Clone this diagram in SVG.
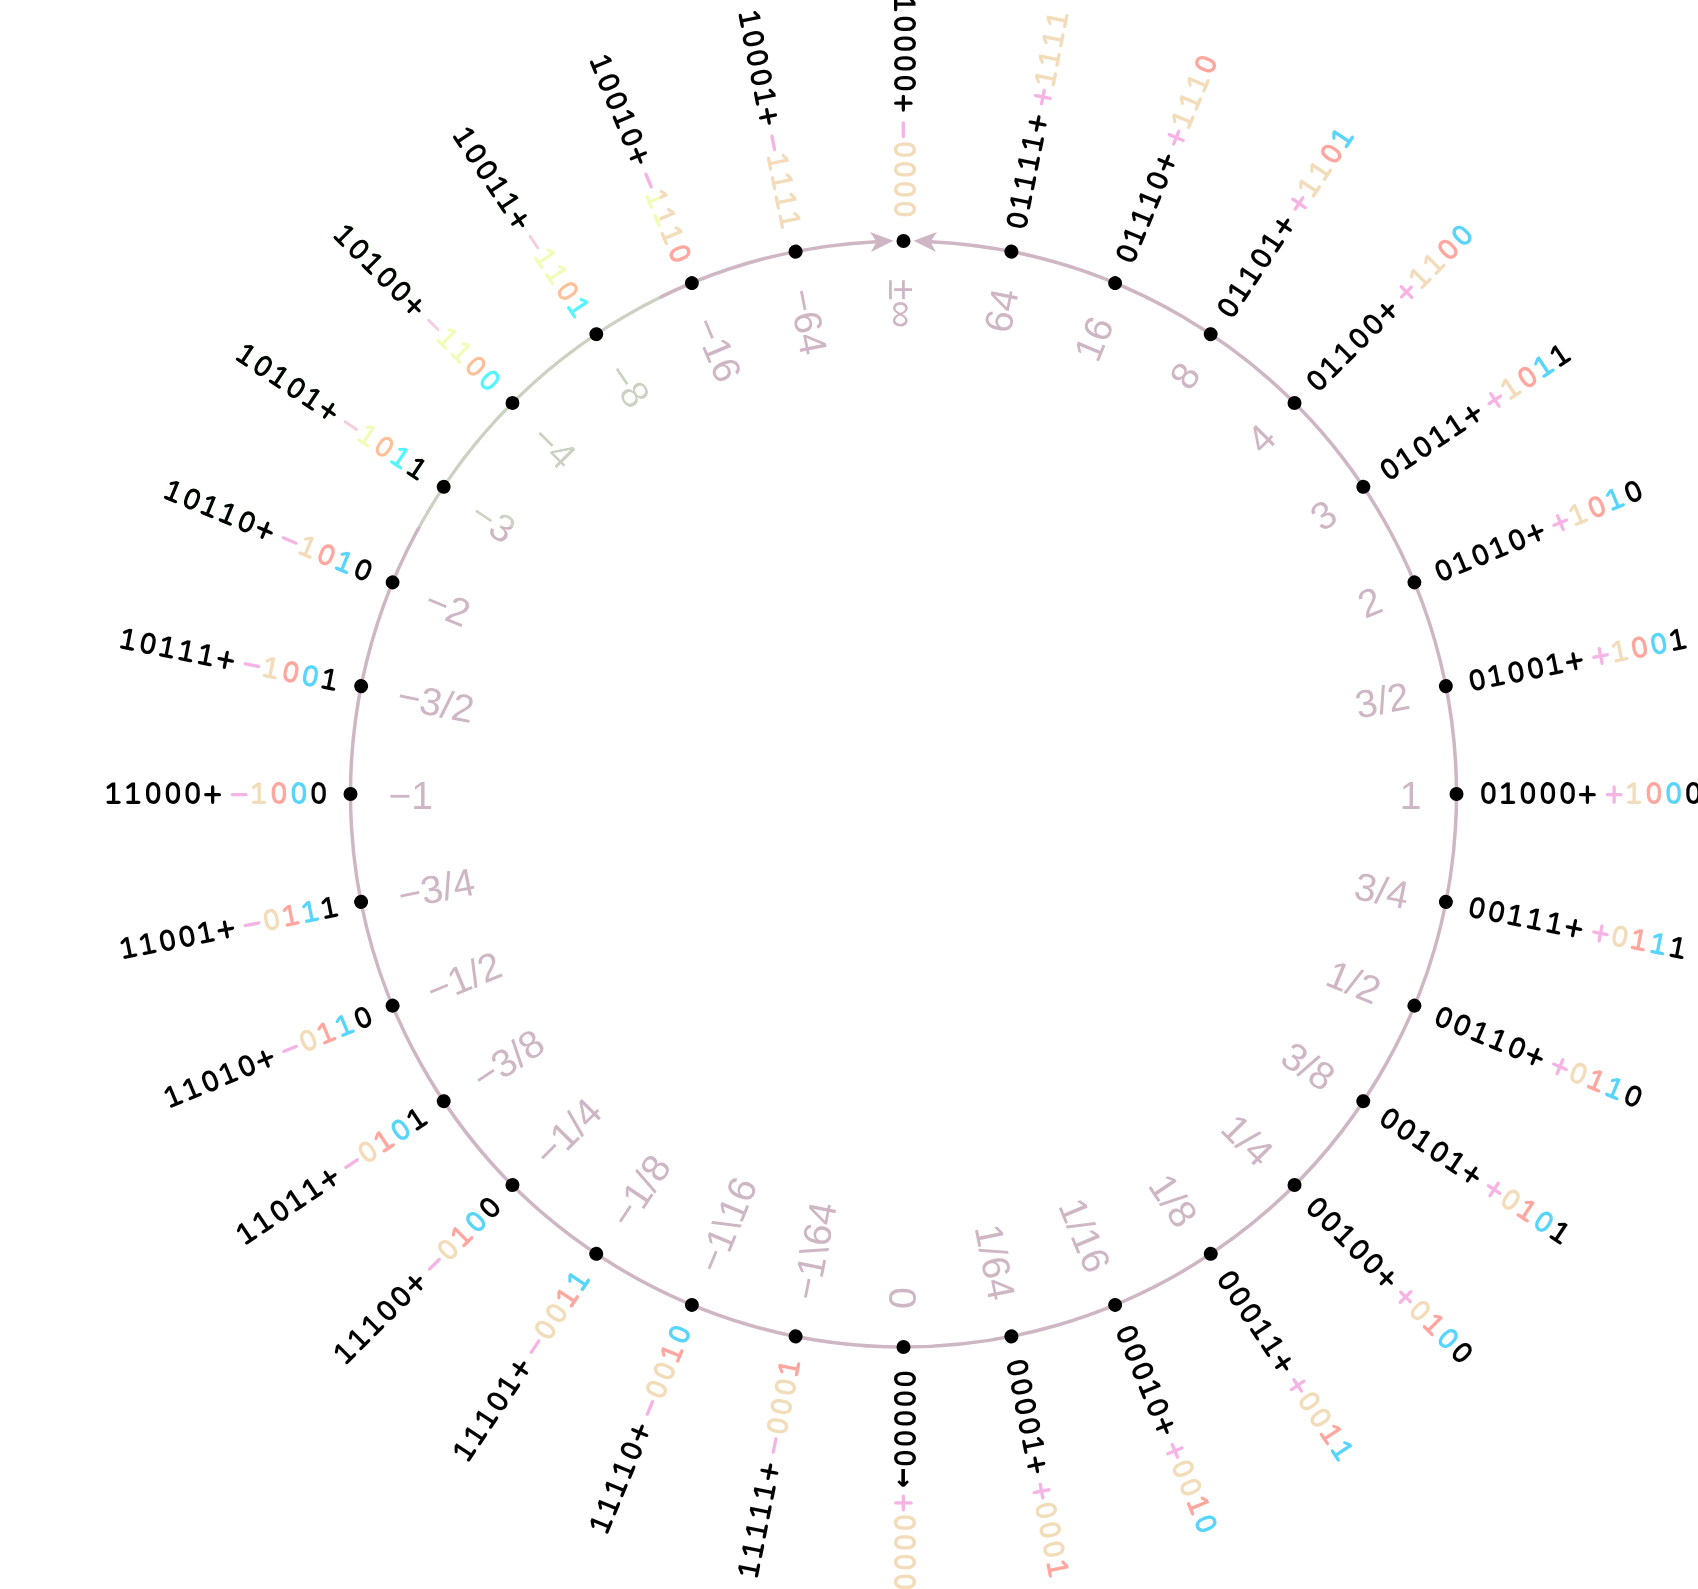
<svg xmlns="http://www.w3.org/2000/svg" width="1698" height="1589" viewBox="0 0 1698 1589">
<style>
.ring{fill:none;stroke:#cfb6c5;stroke-width:3.5}
.dot{fill:#000}
.val{font-family:"Liberation Sans",Arial,sans-serif;font-size:39px;fill:#cfb6c5}
.bits{font-family:FreeMono,"Liberation Mono",monospace;font-size:33px;font-weight:bold;fill:#000}
.arr{font-family:"DejaVu Sans Mono","Liberation Mono",monospace;font-size:33px;font-weight:bold}
.s{fill:#f5b4e4}.r{fill:#f2dcb9}.t{fill:#ffa69e}.e{fill:#57d5fd}
.end{text-anchor:end}.start{text-anchor:start}
</style>
<defs>
<marker id="ah" markerUnits="userSpaceOnUse" markerWidth="24" markerHeight="22" refX="6" refY="11" orient="auto-start-reverse" overflow="visible"><path d="M0,1 L23,11 L0,21 L6,11 Z" fill="#cfb6c5"/></marker>
</defs>
<rect width="1698" height="1589" fill="#fff"/>
<g id="connectors">
<path class="ring" d="M930.5,241.66 A553,553 0 1 1 876.5,241.66" marker-start="url(#ah)" marker-end="url(#ah)"/>
</g>
<g id="nodes">
<g id="n0" transform="translate(903.5,794) rotate(90)"><circle class="dot" cx="-553" cy="0" r="7"/><text class="bits end" x="-575" y="10">10000+<tspan dx="7" class="s">−</tspan><tspan class="r">0000</tspan></text><text class="val start" x="-515" y="15">±∞</text></g>
<g id="n1" transform="translate(903.5,794) rotate(-78.75)"><circle class="dot" cx="553" cy="0" r="7"/><text class="bits start" x="575" y="10">01111+<tspan dx="7" class="s">+</tspan><tspan class="r">1111</tspan></text><text class="val end" x="515" y="15">64</text></g>
<g id="n2" transform="translate(903.5,794) rotate(-67.5)"><circle class="dot" cx="553" cy="0" r="7"/><text class="bits start" x="575" y="10">01110+<tspan dx="7" class="s">+</tspan><tspan class="r">111</tspan><tspan class="t">0</tspan></text><text class="val end" x="515" y="15">16</text></g>
<g id="n3" transform="translate(903.5,794) rotate(-56.25)"><circle class="dot" cx="553" cy="0" r="7"/><text class="bits start" x="575" y="10">01101+<tspan dx="7" class="s">+</tspan><tspan class="r">11</tspan><tspan class="t">0</tspan><tspan class="e">1</tspan></text><text class="val end" x="515" y="15">8</text></g>
<g id="n4" transform="translate(903.5,794) rotate(-45)"><circle class="dot" cx="553" cy="0" r="7"/><text class="bits start" x="575" y="10">01100+<tspan dx="7" class="s">+</tspan><tspan class="r">11</tspan><tspan class="t">0</tspan><tspan class="e">0</tspan></text><text class="val end" x="515" y="15">4</text></g>
<g id="n5" transform="translate(903.5,794) rotate(-33.75)"><circle class="dot" cx="553" cy="0" r="7"/><text class="bits start" x="575" y="10">01011+<tspan dx="7" class="s">+</tspan><tspan class="r">1</tspan><tspan class="t">0</tspan><tspan class="e">1</tspan><tspan>1</tspan></text><text class="val end" x="515" y="15">3</text></g>
<g id="n6" transform="translate(903.5,794) rotate(-22.5)"><circle class="dot" cx="553" cy="0" r="7"/><text class="bits start" x="575" y="10">01010+<tspan dx="7" class="s">+</tspan><tspan class="r">1</tspan><tspan class="t">0</tspan><tspan class="e">1</tspan><tspan>0</tspan></text><text class="val end" x="515" y="15">2</text></g>
<g id="n7" transform="translate(903.5,794) rotate(-11.25)"><circle class="dot" cx="553" cy="0" r="7"/><text class="bits start" x="575" y="10">01001+<tspan dx="7" class="s">+</tspan><tspan class="r">1</tspan><tspan class="t">0</tspan><tspan class="e">0</tspan><tspan>1</tspan></text><text class="val end" x="515" y="15">3/2</text></g>
<g id="n8" transform="translate(903.5,794) rotate(0)"><circle class="dot" cx="553" cy="0" r="7"/><text class="bits start" x="575" y="10">01000+<tspan dx="7" class="s">+</tspan><tspan class="r">1</tspan><tspan class="t">0</tspan><tspan class="e">0</tspan><tspan>0</tspan></text><text class="val end" x="518" y="15">1</text></g>
<g id="n9" transform="translate(903.5,794) rotate(11.25)"><circle class="dot" cx="553" cy="0" r="7"/><text class="bits start" x="575" y="10">00111+<tspan dx="7" class="s">+</tspan><tspan class="r">0</tspan><tspan class="t">1</tspan><tspan class="e">1</tspan><tspan>1</tspan></text><text class="val end" x="515" y="15">3/4</text></g>
<g id="n10" transform="translate(903.5,794) rotate(22.5)"><circle class="dot" cx="553" cy="0" r="7"/><text class="bits start" x="575" y="10">00110+<tspan dx="7" class="s">+</tspan><tspan class="r">0</tspan><tspan class="t">1</tspan><tspan class="e">1</tspan><tspan>0</tspan></text><text class="val end" x="515" y="15">1/2</text></g>
<g id="n11" transform="translate(903.5,794) rotate(33.75)"><circle class="dot" cx="553" cy="0" r="7"/><text class="bits start" x="575" y="10">00101+<tspan dx="7" class="s">+</tspan><tspan class="r">0</tspan><tspan class="t">1</tspan><tspan class="e">0</tspan><tspan>1</tspan></text><text class="val end" x="515" y="15">3/8</text></g>
<g id="n12" transform="translate(903.5,794) rotate(45)"><circle class="dot" cx="553" cy="0" r="7"/><text class="bits start" x="575" y="10">00100+<tspan dx="7" class="s">+</tspan><tspan class="r">0</tspan><tspan class="t">1</tspan><tspan class="e">0</tspan><tspan>0</tspan></text><text class="val end" x="515" y="15">1/4</text></g>
<g id="n13" transform="translate(903.5,794) rotate(56.25)"><circle class="dot" cx="553" cy="0" r="7"/><text class="bits start" x="575" y="10">00011+<tspan dx="7" class="s">+</tspan><tspan class="r">00</tspan><tspan class="t">1</tspan><tspan class="e">1</tspan></text><text class="val end" x="515" y="15">1/8</text></g>
<g id="n14" transform="translate(903.5,794) rotate(67.5)"><circle class="dot" cx="553" cy="0" r="7"/><text class="bits start" x="575" y="10">00010+<tspan dx="7" class="s">+</tspan><tspan class="r">00</tspan><tspan class="t">1</tspan><tspan class="e">0</tspan></text><text class="val end" x="515" y="15">1/16</text></g>
<g id="n15" transform="translate(903.5,794) rotate(78.75)"><circle class="dot" cx="553" cy="0" r="7"/><text class="bits start" x="575" y="10">00001+<tspan dx="7" class="s">+</tspan><tspan class="r">000</tspan><tspan class="t">1</tspan></text><text class="val end" x="515" y="15">1/64</text></g>
<g id="n16" transform="translate(903.5,794) rotate(90)"><circle class="dot" cx="553" cy="0" r="7"/><text class="bits start" x="575" y="10">00000<tspan class="arr">→</tspan><tspan dx="5" class="s">+</tspan><tspan class="r">0000</tspan></text><text class="val end" x="515" y="15">0</text></g>
<g id="n17" transform="translate(903.5,794) rotate(-78.75)"><circle class="dot" cx="-553" cy="0" r="7"/><text class="bits end" x="-575" y="10">11111+<tspan dx="7" class="s">−</tspan><tspan class="r">000</tspan><tspan class="t">1</tspan></text><text class="val start" x="-515" y="15">−1\64</text></g>
<g id="n18" transform="translate(903.5,794) rotate(-67.5)"><circle class="dot" cx="-553" cy="0" r="7"/><text class="bits end" x="-575" y="10">11110+<tspan dx="7" class="s">−</tspan><tspan class="r">00</tspan><tspan class="t">1</tspan><tspan class="e">0</tspan></text><text class="val start" x="-515" y="15">−1\16</text></g>
<g id="n19" transform="translate(903.5,794) rotate(-56.25)"><circle class="dot" cx="-553" cy="0" r="7"/><text class="bits end" x="-575" y="10">11101+<tspan dx="7" class="s">−</tspan><tspan class="r">00</tspan><tspan class="t">1</tspan><tspan class="e">1</tspan></text><text class="val start" x="-515" y="15">−1/8</text></g>
<g id="n20" transform="translate(903.5,794) rotate(-45)"><circle class="dot" cx="-553" cy="0" r="7"/><text class="bits end" x="-575" y="10">11100+<tspan dx="7" class="s">−</tspan><tspan class="r">0</tspan><tspan class="t">1</tspan><tspan class="e">0</tspan><tspan>0</tspan></text><text class="val start" x="-515" y="15">−1/4</text></g>
<g id="n21" transform="translate(903.5,794) rotate(-33.75)"><circle class="dot" cx="-553" cy="0" r="7"/><text class="bits end" x="-575" y="10">11011+<tspan dx="7" class="s">−</tspan><tspan class="r">0</tspan><tspan class="t">1</tspan><tspan class="e">0</tspan><tspan>1</tspan></text><text class="val start" x="-515" y="15">−3/8</text></g>
<g id="n22" transform="translate(903.5,794) rotate(-22.5)"><circle class="dot" cx="-553" cy="0" r="7"/><text class="bits end" x="-575" y="10">11010+<tspan dx="7" class="s">−</tspan><tspan class="r">0</tspan><tspan class="t">1</tspan><tspan class="e">1</tspan><tspan>0</tspan></text><text class="val start" x="-515" y="15">−1/2</text></g>
<g id="n23" transform="translate(903.5,794) rotate(-11.25)"><circle class="dot" cx="-553" cy="0" r="7"/><text class="bits end" x="-575" y="10">11001+<tspan dx="7" class="s">−</tspan><tspan class="r">0</tspan><tspan class="t">1</tspan><tspan class="e">1</tspan><tspan>1</tspan></text><text class="val start" x="-515" y="15">−3/4</text></g>
<g id="n24" transform="translate(903.5,794) rotate(0)"><circle class="dot" cx="-553" cy="0" r="7"/><text class="bits end" x="-575" y="10">11000+<tspan dx="7" class="s">−</tspan><tspan class="r">1</tspan><tspan class="t">0</tspan><tspan class="e">0</tspan><tspan>0</tspan></text><text class="val start" x="-515" y="15">−1</text></g>
<g id="n25" transform="translate(903.5,794) rotate(11.25)"><circle class="dot" cx="-553" cy="0" r="7"/><text class="bits end" x="-575" y="10">10111+<tspan dx="7" class="s">−</tspan><tspan class="r">1</tspan><tspan class="t">0</tspan><tspan class="e">0</tspan><tspan>1</tspan></text><text class="val start" x="-515" y="15">−3/2</text></g>
<g id="n26" transform="translate(903.5,794) rotate(22.5)"><circle class="dot" cx="-553" cy="0" r="7"/><text class="bits end" x="-575" y="10">10110+<tspan dx="7" class="s">−</tspan><tspan class="r">1</tspan><tspan class="t">0</tspan><tspan class="e">1</tspan><tspan>0</tspan></text><text class="val start" x="-515" y="15">−2</text></g>
<g id="n27" transform="translate(903.5,794) rotate(33.75)"><circle class="dot" cx="-553" cy="0" r="7"/><text class="bits end" x="-575" y="10">10101+<tspan dx="7" class="s">−</tspan><tspan class="r">1</tspan><tspan class="t">0</tspan><tspan class="e">1</tspan><tspan>1</tspan></text><text class="val start" x="-515" y="15">−3</text></g>
<g id="n28" transform="translate(903.5,794) rotate(45)"><circle class="dot" cx="-553" cy="0" r="7"/><text class="bits end" x="-575" y="10">10100+<tspan dx="7" class="s">−</tspan><tspan class="r">11</tspan><tspan class="t">0</tspan><tspan class="e">0</tspan></text><text class="val start" x="-515" y="15">−4</text></g>
<g id="n29" transform="translate(903.5,794) rotate(56.25)"><circle class="dot" cx="-553" cy="0" r="7"/><text class="bits end" x="-575" y="10">10011+<tspan dx="7" class="s">−</tspan><tspan class="r">11</tspan><tspan class="t">0</tspan><tspan class="e">1</tspan></text><text class="val start" x="-515" y="15">−8</text></g>
<g id="n30" transform="translate(903.5,794) rotate(67.5)"><circle class="dot" cx="-553" cy="0" r="7"/><text class="bits end" x="-575" y="10">10010+<tspan dx="7" class="s">−</tspan><tspan class="r">111</tspan><tspan class="t">0</tspan></text><text class="val start" x="-515" y="15">−16</text></g>
<g id="n31" transform="translate(903.5,794) rotate(78.75)"><circle class="dot" cx="-553" cy="0" r="7"/><text class="bits end" x="-575" y="10">10001+<tspan dx="7" class="s">−</tspan><tspan class="r">1111</tspan></text><text class="val start" x="-515" y="15">−64</text></g>
</g>
<rect id="highlight" x="0" y="190" width="660" height="337" fill="rgb(0,32,0)" style="mix-blend-mode:color-dodge"/>
</svg>
